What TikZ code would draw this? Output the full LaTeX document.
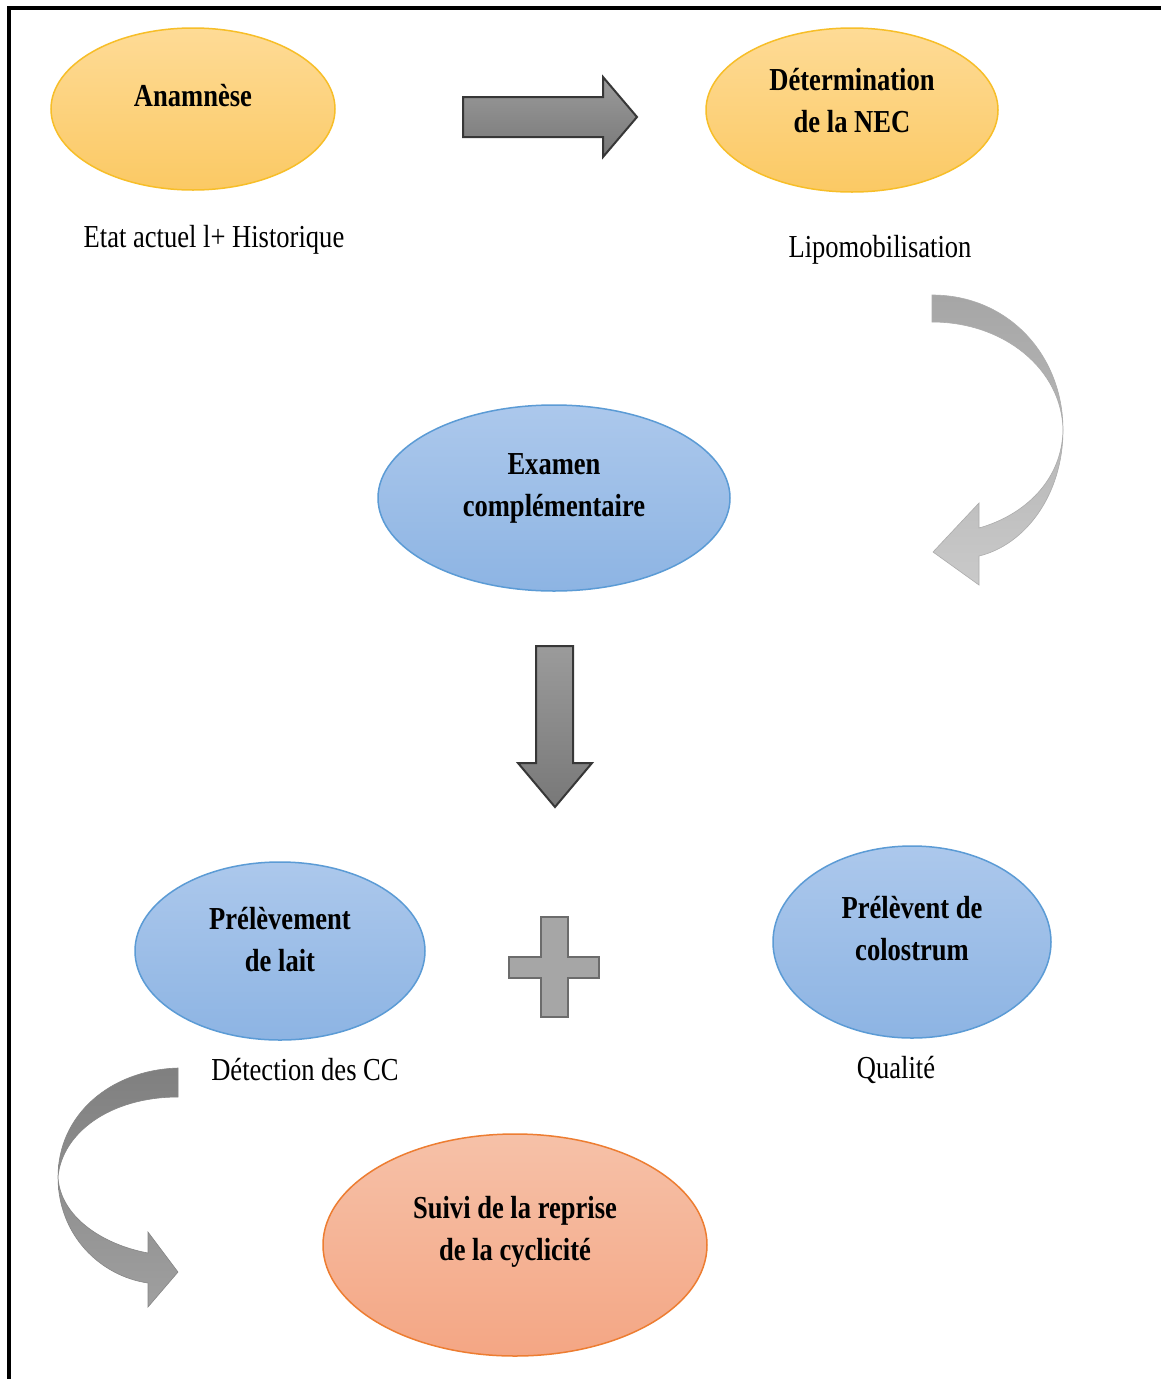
\documentclass[tikz,border=0pt]{standalone}
\usepackage{fontspec}
\setmainfont[FakeStretch=0.83]{Liberation Serif}
\usetikzlibrary{shapes.geometric}
\definecolor{yTop}{RGB}{254,219,150}
\definecolor{yBot}{RGB}{251,201,100}
\definecolor{yBrd}{RGB}{247,190,40}
\definecolor{bTop}{RGB}{172,200,236}
\definecolor{bBot}{RGB}{141,180,227}
\definecolor{bBrd}{RGB}{91,155,213}
\definecolor{sTop}{RGB}{246,193,168}
\definecolor{sBot}{RGB}{244,166,132}
\definecolor{sBrd}{RGB}{237,125,49}
\definecolor{aTop}{RGB}{155,155,155}
\definecolor{aBot}{RGB}{120,120,120}
\definecolor{aBrd}{RGB}{55,55,55}
\begin{document}
\begin{tikzpicture}[x=1pt,y=-1pt,
  bubble/.style={ellipse, line width=1.5pt, inner sep=0pt},
  yel/.style={bubble, draw=yBrd, top color=yTop, bottom color=yBot},
  blu/.style={bubble, draw=bBrd, top color=bTop, bottom color=bBot},
  sal/.style={bubble, draw=sBrd, top color=sTop, bottom color=sBot},
  ttl/.style={font=\bfseries\fontsize{32}{42}\selectfont, align=center, inner sep=0pt},
  lbl/.style={font=\fontsize{32}{38}\selectfont, inner sep=0pt},
  blockarrow/.style={draw=aBrd, line width=2pt, line join=miter, top color=aTop, bottom color=aBot},
  plusshape/.style={draw=gray!85!black, line width=2pt, fill=gray!70},
  curveA/.style={draw=gray!65, line width=0.6pt, top color=gray!70, bottom color=gray!42},
  curveB/.style={draw=gray!95, line width=0.6pt, top color=gray!100!black!100, bottom color=gray!75}
]
\useasboundingbox (0,0) rectangle (1161,1379);
\fill[white] (0,0) rectangle (1161,1379);

% frame
\draw[line width=3.5pt, line join=miter] (9,1379) -- (9,8) -- (1161,8);

% ellipses
\node[yel, minimum width=284, minimum height=162] (anam) at (193,109) {};
\node[ttl] (anamT) at ([yshift=13]anam.center) {Anamnèse};

\node[yel, minimum width=292, minimum height=164] (nec) at (852,110) {};
\node[ttl] (necT) at ([yshift=9]nec.center) {Détermination\\de la NEC};

\node[blu, minimum width=352, minimum height=186] (exam) at (554,498) {};
\node[ttl] (examT) at ([yshift=10]exam.center) {Examen\\complémentaire};

\node[blu, minimum width=290, minimum height=178] (lait) at (280,951) {};
\node[ttl] (laitT) at ([yshift=11]lait.center) {Prélèvement\\de lait};

\node[blu, minimum width=278, minimum height=192] (colo) at (912,942) {};
\node[ttl] (coloT) at ([yshift=13]colo.center) {Prélèvent de\\colostrum};

\node[sal, minimum width=384, minimum height=222] (suivi) at (515,1245) {};
\node[ttl] (suiviT) at ([yshift=13]suivi.center) {Suivi de la reprise\\de la cyclicité};

% labels
\node[lbl] (etat) at (214,240) {Etat actuel l+ Historique};
\node[lbl] (lipo) at (880,250) {Lipomobilisation};
\node[lbl] (detc) at (305,1070) {Détection des CC};
\node[lbl] (qual) at (896,1070) {Qualité};

% block arrow right
\path[blockarrow] (463,97) -- (603,97) -- (603,77) -- (637,117) -- (603,157) -- (603,137) -- (463,137) -- cycle;

% block arrow down
\path[blockarrow] (536,646) -- (573,646) -- (573,763) -- (592,763) -- (555,807) -- (518,763) -- (536,763) -- cycle;

% plus sign
\path[plusshape] (541,917) -- (568,917) -- (568,957) -- (599,957) -- (599,978) -- (568,978)
  -- (568,1017) -- (541,1017) -- (541,978) -- (509,978) -- (509,957) -- (541,957) -- cycle;

% curved arrow right (light gray)
\path[curveA] (932,295) .. controls (1008,295) and (1063,355) .. (1063,430)
  .. controls (1063,495) and (1025,545) .. (979,556) -- (979,585) -- (933,552) -- (979,503) -- (979,528)
  .. controls (1025,515) and (1062,480) .. (1063,430)
  .. controls (1062,370) and (1005,322) .. (932,322) -- cycle;

% curved arrow left (darker gray)
\path[curveB] (178,1068) .. controls (110,1070) and (58,1115) .. (58,1177)
  .. controls (58,1235) and (100,1276) .. (148,1283) -- (148,1307) -- (178,1272) -- (148,1232) -- (148,1253)
  .. controls (100,1244) and (60,1215) .. (58,1177)
  .. controls (62,1133) and (110,1097) .. (178,1097) -- cycle;
\end{tikzpicture}
\end{document}
